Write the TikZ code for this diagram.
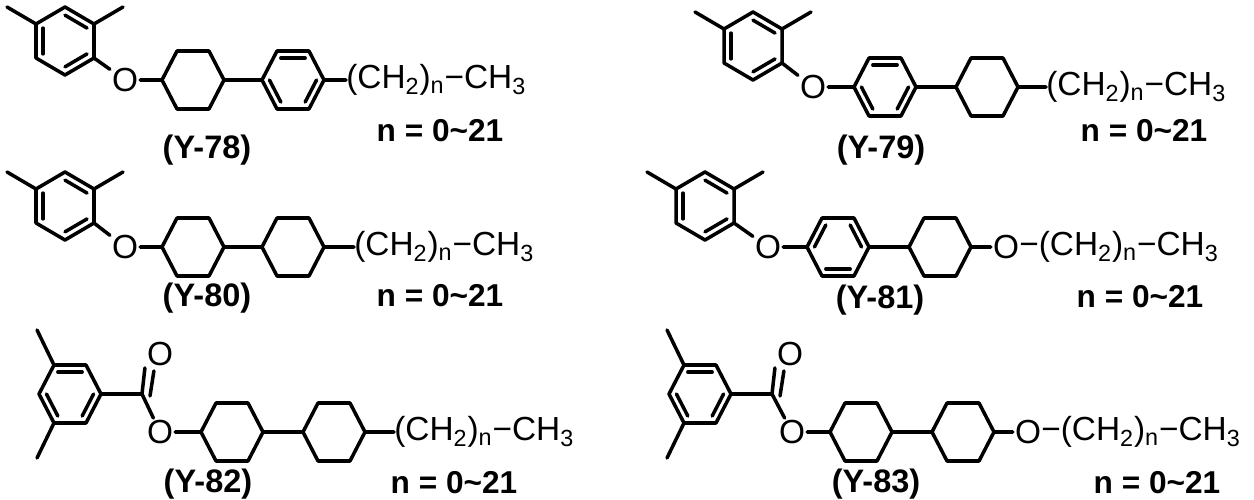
\documentclass[tikz,border=0pt]{standalone}
\usepackage{fontspec}
\setmainfont{Liberation Sans}
\usetikzlibrary{calc}
% ring macros: name, x, y (pixel units, y downwards)
\newcommand{\pointring}[3]{%
  \coordinate (#1) at (#2,#3);
  \coordinate (#11) at ($(#1)+(0,-34)$);
  \coordinate (#12) at ($(#1)+(29,-17)$);
  \coordinate (#13) at ($(#1)+(29,17)$);
  \coordinate (#14) at ($(#1)+(0,34)$);
  \coordinate (#15) at ($(#1)+(-29,17)$);
  \coordinate (#16) at ($(#1)+(-29,-17)$);
  \draw[bond] (#11)--(#12)--(#13)--(#14)--(#15)--(#16)--cycle;}
\newcommand{\flatring}[3]{%
  \coordinate (#1) at (#2,#3);
  \coordinate (#11) at ($(#1)+(-31,0)$);
  \coordinate (#12) at ($(#1)+(-16,-29)$);
  \coordinate (#13) at ($(#1)+(16,-29)$);
  \coordinate (#14) at ($(#1)+(31,0)$);
  \coordinate (#15) at ($(#1)+(16,29)$);
  \coordinate (#16) at ($(#1)+(-16,29)$);
  \draw[bond] (#11)--(#12)--(#13)--(#14)--(#15)--(#16)--cycle;}
\newcommand{\dbl}[3]{\draw[bond] ($(#1#2)!0.24!(#1)$) -- ($(#1#3)!0.24!(#1)$);}
% 2,4-dimethylphenyl
\newcommand{\xylyl}[3]{%
  \pointring{#1}{#2}{#3}
  \dbl{#1}{1}{2}\dbl{#1}{3}{4}\dbl{#1}{5}{6}
  \coordinate (#1ma) at ($(#1)+(-58,-34)$);
  \coordinate (#1mb) at ($(#1)+(58,-34)$);
  \draw[bond] (#16) -- (#1ma) (#12) -- (#1mb);}
% 3,5-dimethylbenzoyl
\newcommand{\benzoyl}[3]{%
  \flatring{#1}{#2}{#3}
  \dbl{#1}{2}{3}\dbl{#1}{4}{5}\dbl{#1}{6}{1}
  \coordinate (#1ma) at ($(#1)+(-33,-64)$);
  \coordinate (#1mb) at ($(#1)+(-33,64)$);
  \coordinate (#1c) at ($(#1)+(72,0)$);
  \node[atom] (#1o) at ($(#1c)+(18,-40)$) {O};
  \draw[bond] (#12) -- (#1ma) (#16) -- (#1mb) (#14) -- (#1c);
  \draw[bond] (#1c) -- (#1o.south west);
  \draw[bond] ($(#1c)+(8,2)$) -- ($(#1o.south west)+(9,3)$);}
\newcommand{\chain}{(CH\textsubscript{2})\textsubscript{n}−CH\textsubscript{3}}
\begin{document}
\begin{tikzpicture}[x=0.02cm,y=-0.02cm,
  bond/.style={line width=2pt,line cap=round,line join=round},
  atom/.style={font=\fontsize{19}{22}\selectfont,inner sep=1pt},
  chaintext/.style={font=\fontsize{19}{22}\selectfont,inner sep=0pt,anchor=west},
  cmpd/.style={font=\fontsize{18.5}{21}\selectfont\bfseries,inner sep=0pt},
  nrange/.style={font=\fontsize{18}{21}\selectfont\bfseries,inner sep=0pt}]
\useasboundingbox (0,0) rectangle (1254,500);
% (Y-78)
\xylyl{pa}{65}{41}
\node[atom] (oa) at (125,80) {O};
\flatring{ca}{193}{80}
\flatring{ba}{293}{80}
\dbl{ba}{2}{3}\dbl{ba}{4}{5}\dbl{ba}{6}{1}
\node[chaintext] (ta) at (346,80) {\chain};
\draw[bond] (pa3) -- (oa) (oa) -- (ca1) (ca4) -- (ba1) (ba4) -- (ta.west);
\node[cmpd] (la) at (207,150) {(Y-78)};
\node[nrange] (na) at (440,131) {n = 0\textasciitilde21};
% (Y-79)
\xylyl{pb}{753}{46}
\node[atom] (ob) at (813,87) {O};
\flatring{bb}{885}{87}
\dbl{bb}{2}{3}\dbl{bb}{4}{5}\dbl{bb}{6}{1}
\flatring{cb}{987}{87}
\node[chaintext] (tb) at (1046,87) {\chain};
\draw[bond] (pb3) -- (ob) (ob) -- (bb1) (bb4) -- (cb1) (cb4) -- (tb.west);
\node[cmpd] (lb) at (881,150) {(Y-79)};
\node[nrange] (nb) at (1144,131) {n = 0\textasciitilde21};
% (Y-80)
\xylyl{pc}{65}{206}
\node[atom] (oc) at (125,247) {O};
\flatring{cc}{193}{247}
\flatring{dc}{293}{247}
\node[chaintext] (tc) at (354,247) {\chain};
\draw[bond] (pc3) -- (oc) (oc) -- (cc1) (cc4) -- (dc1) (dc4) -- (tc.west);
\node[cmpd] (lc) at (207,298) {(Y-80)};
\node[nrange] (nc) at (440,296) {n = 0\textasciitilde21};
% (Y-81)
\xylyl{pd}{705}{206}
\node[atom] (od) at (768,247) {O};
\flatring{bd}{838}{247}
\dbl{bd}{1}{2}\dbl{bd}{3}{4}\dbl{bd}{5}{6}
\flatring{cd}{940}{247}
\node[atom] (qd) at (1006,247) {O};
\node[chaintext] (td) at (1019,247) {−\chain};
\draw[bond] (pd3) -- (od) (od) -- (bd1) (bd4) -- (cd1) (cd4) -- (qd);
\node[cmpd] (ld) at (880,300) {(Y-81)};
\node[nrange] (nd) at (1140,297) {n = 0\textasciitilde21};
% (Y-82)
\benzoyl{re}{70}{394}
\node[atom] (oe) at (160,432) {O};
\flatring{ce}{232}{432}
\flatring{de}{334}{432}
\node[chaintext] (te) at (394,432) {\chain};
\draw[bond] (rec) -- (oe) (oe) -- (ce1) (ce4) -- (de1) (de4) -- (te.west);
\node[cmpd] (le) at (208,484) {(Y-82)};
\node[nrange] (ne) at (454,483) {n = 0\textasciitilde21};
% (Y-83)
\benzoyl{rf}{700}{394}
\node[atom] (of) at (792,432) {O};
\flatring{cf}{861}{432}
\flatring{df}{963}{432}
\node[atom] (qf) at (1028,432) {O};
\node[chaintext] (tf) at (1041,432) {−\chain};
\draw[bond] (rfc) -- (of) (of) -- (cf1) (cf4) -- (df1) (df4) -- (qf);
\node[cmpd] (lf) at (876,484) {(Y-83)};
\node[nrange] (nf) at (1157,483) {n = 0\textasciitilde21};
\end{tikzpicture}
\end{document}
